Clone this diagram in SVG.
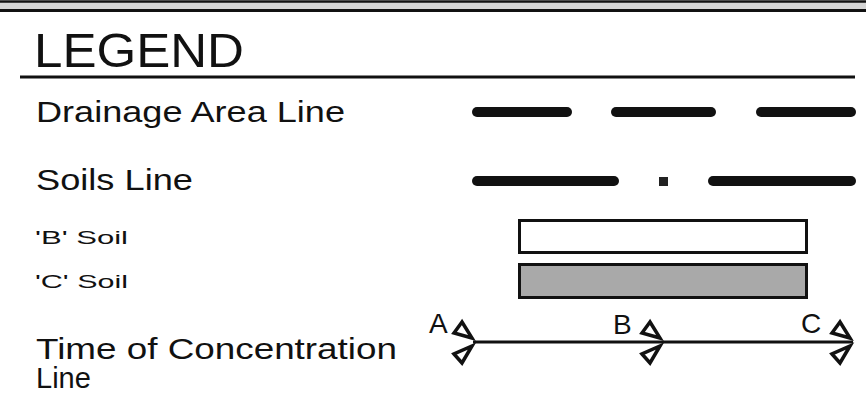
<svg xmlns="http://www.w3.org/2000/svg" width="866" height="395" viewBox="0 0 866 395">
<defs>
<style>
.t{font-family:"Liberation Sans",Arial,sans-serif;fill:#111}
.lbl{font-size:29px}
.sm{font-size:19px}
.dash{stroke:#111;stroke-width:10;stroke-linecap:round;fill:none}
.box{stroke:#111;stroke-width:3}
.ln{stroke:#111;stroke-width:3;fill:none}
.hd{stroke:#111;stroke-width:3.5;fill:none;stroke-linejoin:miter}
</style>
<g id="head">
<polygon class="hd" points="-13,-20 -21,-9 -3,-4"/>
<polygon class="hd" points="-21,12 -13,21 -3,4"/>
</g>
</defs>
<rect width="866" height="395" fill="#fff"/>
<g id="frame">
<rect x="0" y="2" width="866" height="8" fill="#d4d4d4"/>
<line x1="0" y1="1.5" x2="866" y2="1.5" stroke="#111" stroke-width="2.5"/>
<line x1="0" y1="10.5" x2="866" y2="10.5" stroke="#111" stroke-width="3"/>
</g>
<g id="title">
<text class="t" x="34" y="67" font-size="48" textLength="210" lengthAdjust="spacingAndGlyphs">LEGEND</text>
<line x1="20" y1="77" x2="855" y2="77" stroke="#111" stroke-width="3"/>
</g>
<g id="drainage">
<text class="t lbl" x="36" y="122" textLength="309" lengthAdjust="spacingAndGlyphs">Drainage Area Line</text>
<line class="dash" x1="477" y1="112" x2="567" y2="112"/>
<line class="dash" x1="616" y1="112" x2="711" y2="112"/>
<line class="dash" x1="761" y1="112" x2="851" y2="112"/>
</g>
<g id="soils">
<text class="t lbl" x="36" y="190" textLength="157" lengthAdjust="spacingAndGlyphs">Soils Line</text>
<line class="dash" x1="477" y1="181" x2="614" y2="181" stroke="#222"/>
<rect x="659" y="177" width="9" height="9" fill="#222"/>
<line class="dash" x1="713" y1="181" x2="851" y2="181" stroke="#222"/>
</g>
<g id="b-soil">
<text class="t sm" x="35" y="244" textLength="93" lengthAdjust="spacingAndGlyphs">'B' Soil</text>
<rect class="box" x="519.5" y="220.5" width="287" height="32" fill="#fff"/>
</g>
<g id="c-soil">
<text class="t sm" x="35" y="288" textLength="93" lengthAdjust="spacingAndGlyphs">'C' Soil</text>
<rect class="box" x="519.5" y="264.5" width="287" height="33" fill="#a9a9a9"/>
</g>
<g id="toc">
<text class="t lbl" x="36" y="359" textLength="361" lengthAdjust="spacingAndGlyphs">Time of Concentration</text>
<text class="t lbl" x="36" y="388">Line</text>
</g>
<g id="connectors">
<line class="ln" x1="473" y1="342" x2="853" y2="342"/>
<use href="#head" transform="translate(475,342)"/>
<use href="#head" transform="translate(663,342)"/>
<use href="#head" transform="translate(853,342)"/>
</g>
<g id="labels">
<text class="t" x="429" y="333" font-size="28">A</text>
<text class="t" x="613" y="334" font-size="28">B</text>
<text class="t" x="801" y="333" font-size="28">C</text>
</g>
</svg>
